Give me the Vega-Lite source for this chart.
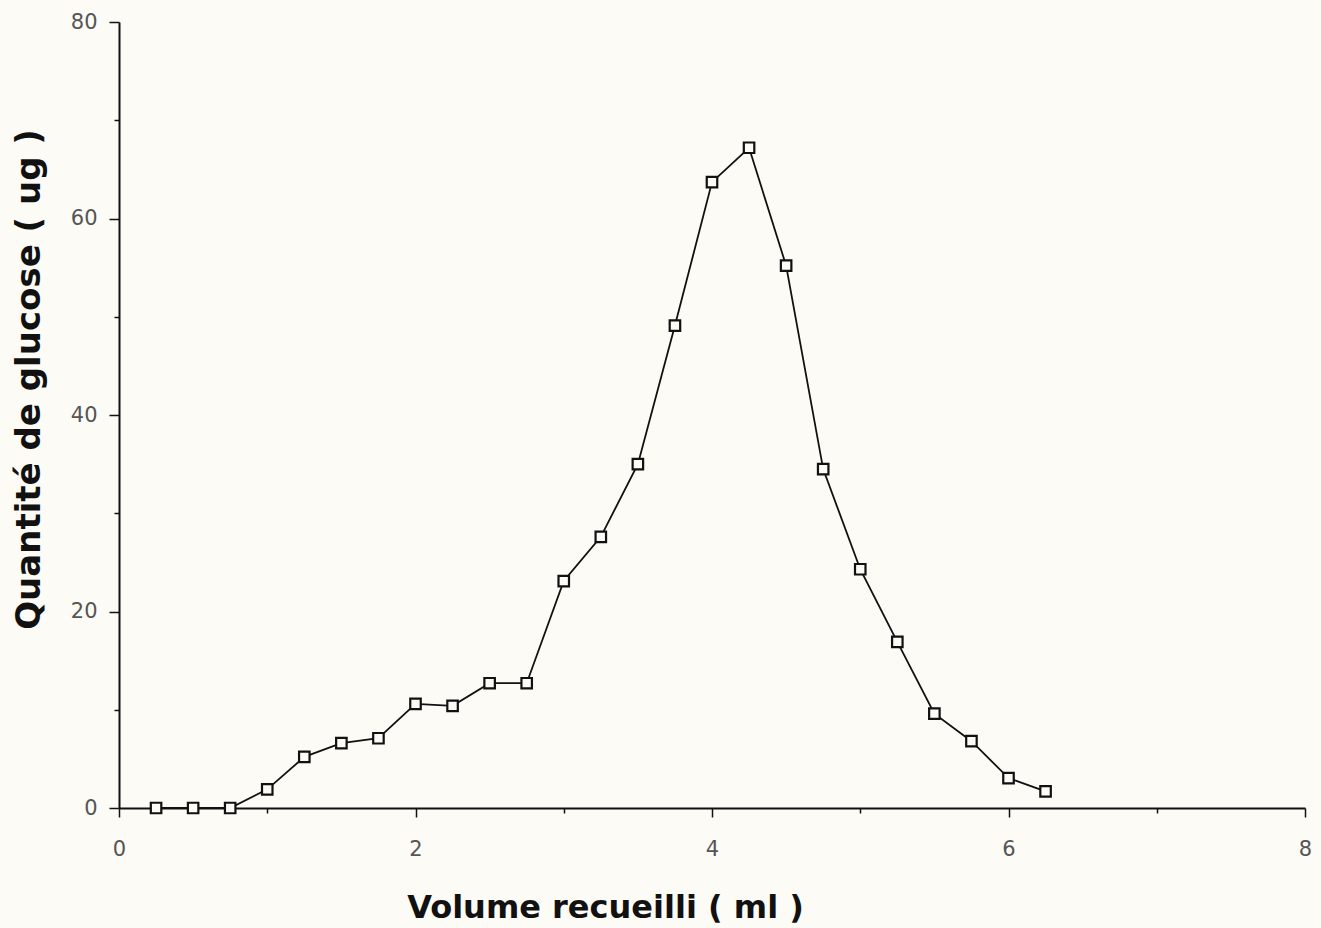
{
  "$schema": "https://vega.github.io/schema/vega-lite/v6.json",
  "autosize": {"type": "none"},
  "width": 1186,
  "height": 786,
  "padding": {"left": 119, "top": 22, "right": 16, "bottom": 120},
  "background": "#fcfbf6",
  "config": {"view": {"stroke": null}},
  "data": {
    "values": [
      {"volume": 0.25, "glucose": 0},
      {"volume": 0.5, "glucose": 0},
      {"volume": 0.75, "glucose": 0},
      {"volume": 1.0, "glucose": 1.9},
      {"volume": 1.25, "glucose": 5.2},
      {"volume": 1.5, "glucose": 6.6},
      {"volume": 1.75, "glucose": 7.1},
      {"volume": 2.0, "glucose": 10.6},
      {"volume": 2.25, "glucose": 10.4},
      {"volume": 2.5, "glucose": 12.7},
      {"volume": 2.75, "glucose": 12.7},
      {"volume": 3.0, "glucose": 23.1},
      {"volume": 3.25, "glucose": 27.6},
      {"volume": 3.5, "glucose": 35.0},
      {"volume": 3.75, "glucose": 49.1},
      {"volume": 4.0, "glucose": 63.7},
      {"volume": 4.25, "glucose": 67.2},
      {"volume": 4.5, "glucose": 55.2},
      {"volume": 4.75, "glucose": 34.5},
      {"volume": 5.0, "glucose": 24.3},
      {"volume": 5.25, "glucose": 16.9},
      {"volume": 5.5, "glucose": 9.6},
      {"volume": 5.75, "glucose": 6.8},
      {"volume": 6.0, "glucose": 3.05},
      {"volume": 6.25, "glucose": 1.7}
    ]
  },
  "encoding": {
    "x": {
      "field": "volume", "type": "quantitative",
      "scale": {"domain": [0, 8], "nice": false, "zero": false},
      "axis": {
        "title": "Volume recueilli ( ml )",
        "values": [0, 1, 2, 3, 4, 5, 6, 7, 8],
        "labelExpr": "datum.value % 2 == 0 ? datum.label : ''",
        "grid": false,
        "labelFlush": false,
        "labelOverlap": false,
        "domainColor": "#111111", "domainWidth": 2,
        "tickColor": "#111111", "tickWidth": 1.5,
        "tickSize": {"condition": {"test": "datum.value % 2 == 0", "value": 9}, "value": 5},
        "labelPadding": 21,
        "labelFont": "DejaVu Sans", "labelFontSize": 21, "labelColor": "#555555", "labelFontWeight": "normal",
        "titleFont": "DejaVu Sans", "titleFontSize": 32, "titleFontWeight": "bold", "titleColor": "#111111",
        "titleAnchor": null, "titleAlign": "center", "titleBaseline": "alphabetic",
        "titleX": 486, "titleY": 109
      }
    },
    "y": {
      "field": "glucose", "type": "quantitative",
      "scale": {"domain": [0, 80], "nice": false},
      "axis": {
        "title": "Quantité de glucose ( ug )",
        "values": [0, 10, 20, 30, 40, 50, 60, 70, 80],
        "labelExpr": "datum.value % 20 == 0 ? datum.label : ''",
        "grid": false,
        "labelFlush": false,
        "labelOverlap": false,
        "domainColor": "#111111", "domainWidth": 2,
        "tickColor": "#111111", "tickWidth": 1.5,
        "tickSize": {"condition": {"test": "datum.value % 20 == 0", "value": 10}, "value": 5},
        "labelPadding": 12,
        "labelFont": "DejaVu Sans", "labelFontSize": 21, "labelColor": "#555555", "labelFontWeight": "normal",
        "titleFont": "DejaVu Sans", "titleFontSize": 34, "titleFontWeight": "bold", "titleColor": "#111111",
        "titleAnchor": null, "titleAlign": "center", "titleBaseline": "middle", "titleAngle": -90,
        "titleX": -90, "titleY": 357
      }
    }
  },
  "layer": [
    {"mark": {"type": "line", "color": "#111111", "strokeWidth": 1.8}},
    {"mark": {"type": "point", "shape": "square", "filled": true, "fill": "#fcfbf6", "stroke": "#111111", "strokeWidth": 2.2, "size": 110, "opacity": 1}}
  ]
}
